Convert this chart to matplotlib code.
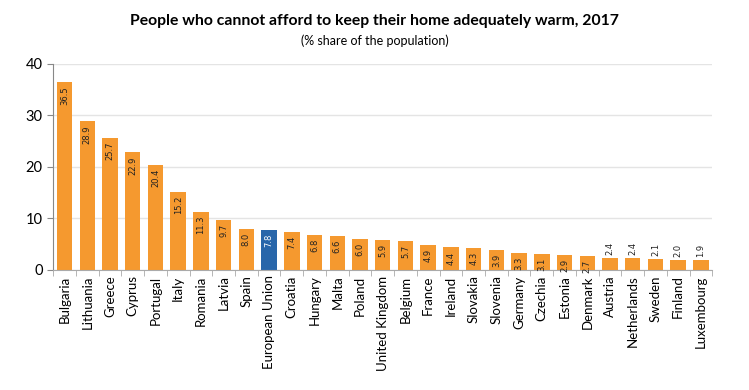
import numpy as np
import matplotlib.pyplot as plt

countries = ['Bulgaria', 'Lithuania', 'Greece', 'Cyprus', 'Portugal', 'Italy',
             'Romania', 'Latvia', 'Spain', 'European Union', 'Croatia',
             'Hungary', 'Malta', 'Poland', 'United Kingdom', 'Belgium',
             'France', 'Ireland', 'Slovakia', 'Slovenia', 'Germany', 'Czechia',
             'Estonia', 'Denmark', 'Austria', 'Netherlands', 'Sweden',
             'Finland', 'Luxembourg']
values = [36.5, 28.9, 25.7, 22.9, 20.4, 15.2, 11.3, 9.7, 8.0, 7.8, 7.4, 6.8,
          6.6, 6.0, 5.9, 5.7, 4.9, 4.4, 4.3, 3.9, 3.3, 3.1, 2.9, 2.7, 2.4,
          2.4, 2.1, 2.0, 1.9]
highlight = 'European Union'

plt.rcParams['font.family'] = ['Lato', 'DejaVu Sans']

orange = '#F5992F'
blue = '#2866AA'

fig = plt.figure(figsize=(7.49, 3.90), dpi=100)
ax = fig.add_axes([0.071, 0.308, 0.880, 0.528])

x = np.arange(len(countries))
colors = [blue if c == highlight else orange for c in countries]
bars = ax.bar(x, values, width=0.68, color=colors, zorder=2)

# labels inside the bar top, or above it for the smallest bars
for xi, v, c in zip(x, values, countries):
    inside = v >= 2.5
    ax.annotate('{:.1f}'.format(v), (xi, v),
                xytext=(0, -3 if inside else 2), textcoords='offset points',
                rotation=90, ha='center', va='top' if inside else 'bottom',
                fontsize=6, family='DejaVu Sans',
                color='white' if c == highlight else '#222222')

ax.set_xlim(-0.5, len(countries) - 0.5)
ax.set_ylim(0, 40)
ax.set_yticks([0, 10, 20, 30, 40])
ax.tick_params(axis='y', labelsize=10.5, length=4, color='#888888')
ax.set_xticks(x)
ax.set_xticklabels(countries, rotation=90, fontsize=9.5)
ax.tick_params(axis='x', length=0, pad=4)
ax.set_xticks(np.arange(len(countries) + 1) - 0.5, minor=True)
ax.tick_params(axis='x', which='minor', length=4, color='#aaaaaa')
ax.grid(axis='y', color='#e4e4e4', linewidth=1, zorder=0)

for s in ['top', 'right']:
    ax.spines[s].set_visible(False)
ax.spines['left'].set_color('#888888')
ax.spines['bottom'].set_color('#aaaaaa')

fig.text(0.5, 0.945, 'People who cannot afford to keep their home adequately warm, 2017',
         ha='center', va='center', fontsize=11.3, fontweight='bold')
fig.text(0.5, 0.895, '(% share of the population)', ha='center',
         va='center', fontsize=9)

fig.savefig('out.png', dpi=100)
